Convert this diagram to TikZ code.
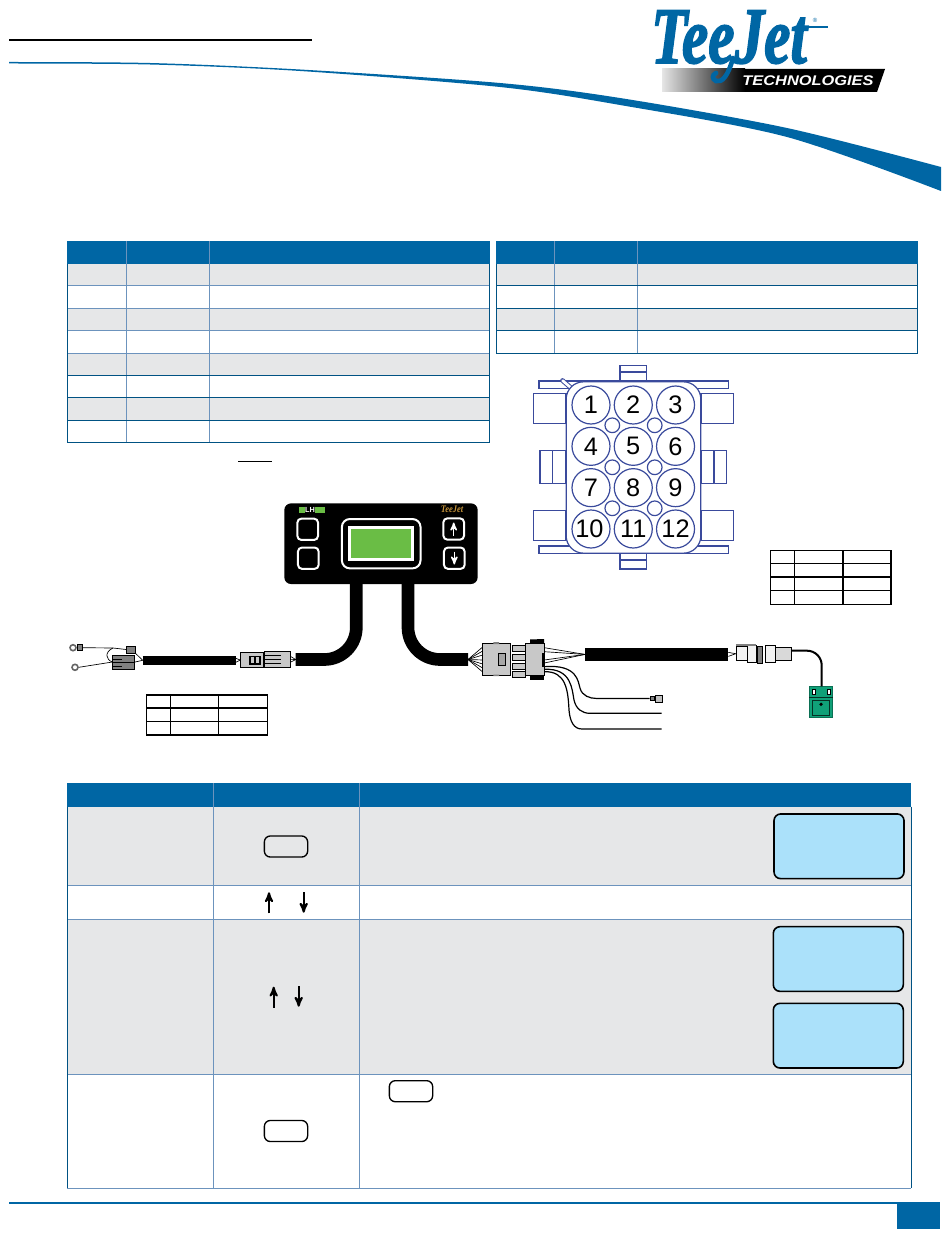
\documentclass[tikz,border=0pt]{standalone}
\usepackage{fontspec}
\setsansfont{Liberation Sans}
\setmainfont{Liberation Serif}
\newfontfamily\logofont{Liberation Serif}[BoldItalicFeatures={FakeBold=2.2}]
\usetikzlibrary{arrows, positioning}
\definecolor{tjblue}{HTML}{0066A4}
\definecolor{rowgray}{HTML}{E6E7E8}
\definecolor{gridblue}{HTML}{6C93BD}
\definecolor{lcdblue}{HTML}{ABE1FA}
\definecolor{lcdgreen}{HTML}{6ABD45}
\definecolor{pinblue}{HTML}{3A4A9C}
\definecolor{plugtone}{HTML}{C8C8C8}
\definecolor{senseteal}{HTML}{10A078}
\definecolor{logogold}{HTML}{C8963C}
\tikzset{
>=stealth', % bold arrow heads, as on the keys
headfill/.style={fill=tjblue},
rowfill/.style={fill=rowgray},
gridline/.style={draw=gridblue, line width=0.75pt}, % lines inside the tables
frameline/.style={draw=tjblue!80!black, line width=0.75pt}, % outer edge of the tables
pintable/.style={draw=black, line width=0.9pt},
pillkey/.style={draw=black, rounded corners=4.5pt, line width=1pt, minimum width=32.5pt, minimum height=15.8pt, inner sep=0pt},
lcd/.style={draw=black, fill=lcdblue, rounded corners=5pt, line width=1.2pt, minimum width=97.5pt, minimum height=48.5pt, inner sep=0pt},
pinhole/.style={circle, draw=pinblue, line width=0.9pt, minimum size=28.5pt, inner sep=0pt, font=\sffamily\fontsize{19}{19}\selectfont},
keyhole/.style={circle, draw=pinblue, line width=0.9pt, minimum size=11pt, inner sep=0pt},
housing/.style={draw=pinblue, line width=0.9pt, fill=white},
whitekey/.style={draw=white, line width=1.5pt, rounded corners=3pt, minimum width=15.5pt, minimum height=16pt, inner sep=0pt},
plug/.style={draw=black, fill=plugtone, line width=0.5pt, inner sep=0pt},
darkplug/.style={draw=black, fill=gray, line width=0.5pt, inner sep=0pt},
cable/.style={draw=black, line width=9.5pt},
harness/.style={draw=black, line width=6.5pt},
wire/.style={draw=black, line width=0.5pt},
leadwire/.style={draw=black, line width=0.9pt},
ringlug/.style={draw=black!60, line width=1.2pt, circle, minimum size=4.5pt, inner sep=0pt},
keyarrow/.style={->, line width=1.5pt},
}
\begin{document}
\begin{tikzpicture}[x=0.75pt,y=-0.75pt,node distance=1.6pt and 2.3pt]
  \useasboundingbox (0,0) rectangle (950,1241);

  % header
  \draw[line width=1.5pt] (9,40) -- (312,40);
  \fill[tjblue] plot[smooth] coordinates {(9,62) (150,63) (300,69.5) (500,83) (620,98) (787,128) (941,167)}
    -- plot[smooth] coordinates {(941,191) (787,137) (620,105) (500,87) (300,71) (150,64.5) (9,63.5)} -- cycle;
  \shade[left color=gray!20, right color=black] (662,69) rectangle (745,92);
  \fill[black] (745,69) -- (885,69) -- (877,92) -- (745,92) -- cycle;
  \node[text=tjblue, font=\logofont\bfseries\itshape\fontsize{60}{60}\selectfont, xscale=0.74, anchor=base, inner sep=0pt] (logo) at (729,63) {\smash{TeeJet}};
  \draw[tjblue, line width=3.5pt, line cap=round] (733,58) .. controls (728,76) and (722,83) .. (716,81) .. controls (712,79) and (712,75) .. (716,73);
  \draw[tjblue, line width=1.5pt] (795,27) -- (828,27);
  \node[text=tjblue, font=\sffamily\fontsize{4.5}{4.5}\selectfont, inner sep=0pt] (regmark) at (815,20) {®};
  \node[text=white, font=\sffamily\bfseries\itshape\fontsize{10.5}{10.5}\selectfont, xscale=1.17, inner sep=0pt] (techname) at (808,81) {TECHNOLOGIES};

  % left table
  \fill[headfill] (67,241) rectangle (489.5,263.5);
  \fill[rowfill] (67,263.5) rectangle (489.5,285.3);
  \fill[rowfill] (67,308.3) rectangle (489.5,330.3);
  \fill[rowfill] (67,353.3) rectangle (489.5,375.3);
  \fill[rowfill] (67,397.3) rectangle (489.5,420.3);
  \draw[gridline] (126.3,241) -- (126.3,442.3) (209.3,241) -- (209.3,442.3);
  \draw[gridline] (67,285.3) -- (489.5,285.3) (67,308.3) -- (489.5,308.3) (67,330.3) -- (489.5,330.3) (67,353.3) -- (489.5,353.3);
  \draw[frameline] (67,375.3) -- (489.5,375.3) (67,397.3) -- (489.5,397.3) (67,420.3) -- (489.5,420.3);
  \draw[frameline] (67,263.5) -- (67,442.3) -- (489.5,442.3) -- (489.5,263.5);

  % right table
  \fill[headfill] (496,241) rectangle (917.7,263.5);
  \fill[rowfill] (496,263.5) rectangle (917.7,285.3);
  \fill[rowfill] (496,308.3) rectangle (917.7,330.3);
  \draw[gridline] (554.3,241) -- (554.3,353.3) (637.3,241) -- (637.3,353.3);
  \draw[frameline] (496,285.3) -- (917.7,285.3) (496,308.3) -- (917.7,308.3) (496,330.3) -- (917.7,330.3);
  \draw[frameline] (496,263.5) -- (496,353.3) -- (917.7,353.3) -- (917.7,263.5);

  \draw[line width=0.8pt] (238.3,461.7) -- (271.7,461.7);

  % 12 pin connector, back parts first
  \draw[housing] (620,365.3) rectangle (646.7,381.7);
  \draw[housing] (620,372) -- (646.7,372);
  \draw[housing] (620,553.3) rectangle (646.7,569);
  \draw[housing] (620,560) -- (646.7,560);
  \draw[housing] (539,381) rectangle (728.3,388.3);
  \draw[housing] (539,546) rectangle (728.3,553.3);
  \draw[housing] (533.3,393.3) rectangle (566,423.3);
  \draw[housing] (533.3,510.7) rectangle (566,540.7);
  \draw[housing] (701,393.3) rectangle (733.3,423.3);
  \draw[housing] (701,510.7) rectangle (733.3,540.7);
  \draw[housing] (540,450.7) rectangle (566,483.3);
  \draw[housing] (552.3,450.7) -- (552.3,483.3);
  \draw[housing] (701,450.7) rectangle (726.7,483.3);
  \draw[housing] (714,450.7) -- (714,483.3);
  \draw[pinblue, line width=3.5pt, line cap=round] (562.5,380.5) -- (570,387);
  \draw[white, line width=2pt, line cap=round] (562.5,380.5) -- (570,387);
  \node[housing, rounded corners=13pt, minimum width=101pt, minimum height=128.5pt, inner sep=0pt] (pinbody) at (633.5,467.5) {};

  \node[pinhole] (p1) at (591,405) {1};
  \node[pinhole, right=of p1] (p2) {2};
  \node[pinhole, right=of p2] (p3) {3};
  \node[pinhole, below=of p1] (p4) {4};
  \node[pinhole, right=of p4] (p5) {5};
  \node[pinhole, right=of p5] (p6) {6};
  \node[pinhole, below=of p4] (p7) {7};
  \node[pinhole, right=of p7] (p8) {8};
  \node[pinhole, right=of p8] (p9) {9};
  \node[pinhole, below=of p7] (p10) {\kern-2.5pt 10};
  \node[pinhole, right=of p10] (p11) {11};
  \node[pinhole, right=of p11] (p12) {12};
  \node[keyhole] (k1) at (612.3,425.3) {};
  \node[keyhole] (k2) at (654.7,425.3) {};
  \node[keyhole] (k3) at (612.3,467.3) {};
  \node[keyhole] (k4) at (654.7,467.3) {};
  \node[keyhole] (k5) at (612.3,508.3) {};
  \node[keyhole] (k6) at (654.7,508.3) {};

  % small pin tables
  \draw[pintable] (770.7,550.7) rectangle (891,604.3);
  \draw[pintable] (770.7,563.7) -- (891,563.7) (770.7,577) -- (891,577) (770.7,590.7) -- (891,590.7);
  \draw[pintable] (794.7,550.7) -- (794.7,604.3) (843,550.7) -- (843,604.3);
  \draw[pintable] (146.7,695) rectangle (267.3,735);
  \draw[pintable] (146.7,708) -- (267.3,708) (146.7,721.3) -- (267.3,721.3);
  \draw[pintable] (170.7,695) -- (170.7,735) (218.7,695) -- (218.7,735);

  % control box
  \coordinate (leftdrop) at (356.3,580);
  \coordinate (rightdrop) at (408,580);
  \coordinate (leftcableend) at (295.7,659.5);
  \coordinate (rightcableend) at (468,659.5);
  \draw[cable, rounded corners=24pt] (leftdrop) |- (leftcableend);
  \draw[cable, rounded corners=24pt] (rightdrop) |- (rightcableend);
  \node[fill=black, rounded corners=5pt, minimum width=145pt, minimum height=60.5pt, inner sep=0pt] (ctrlbox) at (381,543.7) {};
  \node[whitekey] (keyA) at (307.7,529.3) {};
  \node[whitekey] (keyB) at (308.3,558.2) {};
  \node[whitekey] (keyUp) at (453.7,529) {};
  \node[whitekey] (keyDown) at (454.3,558.2) {};
  \draw[->, white, line width=1.1pt] (453.7,535.5) -- (453.7,522.5);
  \draw[->, white, line width=1.1pt] (454.3,551.5) -- (454.3,564.5);
  \node[draw=white, line width=1.5pt, rounded corners=6pt, minimum width=59pt, minimum height=37pt, inner sep=0pt] (lcdrim) at (381.2,543.7) {};
  \node[draw=white, fill=lcdgreen, line width=2.2pt, minimum width=47pt, minimum height=24pt, inner sep=0pt] (lcdgreen) at (381,543.4) {};
  \fill[lcdgreen] (299,506.7) rectangle (305,512.7);
  \fill[lcdgreen] (315,506.7) rectangle (325,512.7);
  \node[text=white, font=\sffamily\bfseries\fontsize{5.5}{5.5}\selectfont, inner sep=0pt] (lhmark) at (310,509.7) {LH};
  \node[text=logogold, font=\rmfamily\bfseries\itshape\fontsize{7.5}{7.5}\selectfont, xscale=0.85, inner sep=0pt] (tinylogo) at (452,509) {TeeJet};

  % left harness
  \node[plug, minimum width=17pt, minimum height=11.5pt] (midplugA) at (252,660) {};
  \node[plug, minimum width=19.5pt, minimum height=12.5pt] (midplugB) at (277,659.3) {};
  \node[darkplug, minimum width=16.5pt, minimum height=10.5pt] (gndplug) at (123.8,662) {};
  \node[darkplug, minimum width=6.5pt, minimum height=5.2pt] (gndtop) at (130.8,649.5) {};
  \node[ringlug] (ringA) at (73,647.7) {};
  \node[ringlug] (ringB) at (75,667.3) {};
  \node[plug, fill=gray, minimum width=4pt, minimum height=4.5pt] (lugA) at (80,647.7) {};
  \coordinate (harnessL) at (142.7,660.3);
  \coordinate (harnessR) at (235.7,660.3);
  \draw[harness] (harnessL) -- (harnessR);
  \draw[wire] (lugA.east) -- (113,648) -- (gndtop.west);
  \draw[wire] (113,648) .. controls (104,652) and (106,660) .. (gndplug.west);
  \draw[wire] (ringB.east) -- (gndplug.west);
  \draw[wire] (gndplug.east) -- (harnessL);
  \draw[wire] (gndtop.south east) -- (harnessL);
  \draw[wire] (112.7,659) -- (122,659) (112.7,662.5) -- (135,662.5) (112.7,666) -- (122,666);
  \draw[wire] (harnessR) ++(0,-2) -- (midplugA.west);
  \draw[wire] (harnessR) ++(0,2) -- (midplugA.west);
  \draw[wire] (midplugB.east) -- (leftcableend);
  \draw[wire] (midplugB.east) ++(0,-3) -- (leftcableend);
  \draw[wire] (midplugB.east) ++(0,3) -- (leftcableend);
  \fill[black] (249,655.5) rectangle (261,664.5);
  \fill[plugtone] (251,657) rectangle (254,663);
  \fill[plugtone] (256,657) rectangle (259,663);
  \draw[wire] (264,655.5) -- (281,655.5) (264,659.3) -- (281,659.3) (264,663) -- (281,663);

  % right harness
  \node[plug, minimum width=20.5pt, minimum height=23.7pt] (plugA) at (496.3,659.3) {};
  \node[plug, fill=gray!70, minimum width=5pt, minimum height=8.7pt] (plugwin) at (501.7,659.2) {};
  \fill[gray] (493.3,642) rectangle (499,644) (493.3,674.5) rectangle (499,676);
  \node[plug, minimum width=9.4pt, minimum height=5pt] (barA) at (518.7,648.3) {};
  \node[plug, below=1.2pt of barA, minimum width=9.4pt, minimum height=5pt] (barB) {};
  \node[plug, below=1.2pt of barB, minimum width=9.4pt, minimum height=5pt] (barC) {};
  \node[plug, below=1.2pt of barC, minimum width=9.4pt, minimum height=4pt] (barD) {};
  \node[plug, minimum width=14pt, minimum height=24pt] (plugB) at (535,659.5) {};
  \fill[black] (530,639.5) -- (544,639) -- (544,643.3) -- (530,643.3) -- cycle;
  \fill[black] (530,675.7) -- (544,675.7) -- (544,680) -- (530,680) -- cycle;
  \fill[black] (542,652.7) rectangle (544.3,667.3);
  \draw[wire] (rightcableend) -- (482.7,647);
  \draw[wire] (rightcableend) -- (482.7,651);
  \draw[wire] (rightcableend) -- (482.7,655);
  \draw[wire] (rightcableend) -- (482.7,660);
  \draw[wire] (rightcableend) -- (482.7,664);
  \draw[wire] (rightcableend) -- (482.7,668);
  \draw[wire] (rightcableend) -- (482.7,672);
  \coordinate (senscableL) at (585,654.4);
  \coordinate (senscableR) at (728.3,654.4);
  \draw[cable, line width=10pt] (senscableL) -- (senscableR);
  \draw[wire] (544.3,647.7) -- (senscableL);
  \draw[wire] (544.3,651.7) -- (senscableL);
  \draw[wire] (544.3,660) -- (senscableL);
  \draw[wire] (544.3,663) -- (senscableL);

  \node[plug, fill=gray!10, minimum width=8.5pt, minimum height=10.5pt] (sensplugA) at (741.7,653.7) {};
  \node[plug, fill=gray!10, minimum width=7pt, minimum height=13.2pt] (sensplugB) at (752,653.8) {};
  \fill[gray] (736,643.5) rectangle (756,646);
  \node[darkplug, minimum width=3.5pt, minimum height=13pt] (sensring) at (759.7,654.7) {};
  \node[plug, fill=gray!10, minimum width=7.5pt, minimum height=13.2pt] (sensplugC) at (770,653.8) {};
  \node[plug, fill=gray!30, minimum width=12.5pt, minimum height=9.5pt] (sensplugD) at (783.3,653.7) {};
  \draw[wire] (senscableR) ++(0,-2) -- (sensplugA.west);
  \draw[wire] (senscableR) ++(0,2) -- (sensplugA.west);

  \node[fill=senseteal, draw=senseteal!70!black, line width=0.5pt, minimum width=17.5pt, minimum height=23.2pt, inner sep=0pt] (sensor) at (821,702.2) {};
  \draw[leadwire, line width=1.5pt, rounded corners=11pt] (sensplugD.east |- 0,650.7) -- (821.7,650.7) -- (sensor.north -| 821.7,0);
  \draw[black!70!senseteal, line width=0.5pt] (809.3,697.3) -- (832.7,697.3) (812.7,700) rectangle (829.3,715);
  \draw[black, fill=white, line width=0.4pt] (811.8,689) rectangle (814.8,694.5);
  \draw[black, fill=white, line width=0.4pt] (826.8,689) rectangle (829.8,694.5);
  \fill[black] (821,704.3) circle (1.8);

  % loose leads
  \node[plug, fill=gray!50, minimum width=5.8pt, minimum height=5.8pt] (leadplug) at (658.8,698.8) {};
  \node[plug, fill=gray, minimum width=3pt, minimum height=3pt] (leadlug) at (652,698.5) {};
  \coordinate (leadBend) at (661.7,713.3);
  \coordinate (leadEnd) at (661.7,729);
  \draw[leadwire] (544.3,666.7) .. controls (578,664) and (578,682) .. (580,688) .. controls (582,696) and (590,698.4) .. (596,698.4) -- (leadlug.west);
  \draw[leadwire] (544.3,669.3) .. controls (572,668) and (572,690) .. (574,700) .. controls (576,709) and (582,713.3) .. (590,713.3) -- (leadBend);
  \draw[leadwire] (544.3,671.7) .. controls (566,671) and (568,690) .. (569,710) .. controls (570,722) and (574,729) .. (582,729) -- (leadEnd);

  % lower table
  \fill[headfill] (67,783.3) rectangle (911.3,806.7);
  \fill[rowfill] (67,806.7) rectangle (911.3,885.3);
  \fill[rowfill] (67,919.3) rectangle (911.3,1074);
  \draw[gridline] (213.3,783.3) -- (213.3,1188.3) (359.3,783.3) -- (359.3,1188.3);
  \draw[gridline] (67,885.3) -- (911.3,885.3) (67,919.3) -- (911.3,919.3) (67,1074) -- (911.3,1074) (67,1188.3) -- (911.3,1188.3);
  \draw[frameline] (67.3,806.7) -- (67.3,1188.3) (911.3,806.7) -- (911.3,1188.3);

  \node[pillkey] (pillA) at (286,846.5) {};
  \node[pillkey] (pillB) at (286,1131) {};
  \node[pillkey] (pillC) at (411,1091.2) {};
  \node[lcd] (lcdA) at (839,846.3) {};
  \node[lcd] (lcdB) at (838.3,959) {};
  \node[lcd, below=7.8pt of lcdB] (lcdC) {};

  \draw[keyarrow] (269,913.3) -- (269,892.3);
  \draw[keyarrow] (303.7,892.3) -- (303.7,912.7);
  \draw[keyarrow] (273.7,1007.7) -- (273.7,986.7);
  \draw[keyarrow] (298.7,986) -- (298.7,1006.7);

  % footer
  \draw[tjblue, line width=1.5pt] (9,1203) -- (897,1203);
  \fill[tjblue] (897,1202.3) rectangle (940.3,1229.3);
\end{tikzpicture}
\end{document}
